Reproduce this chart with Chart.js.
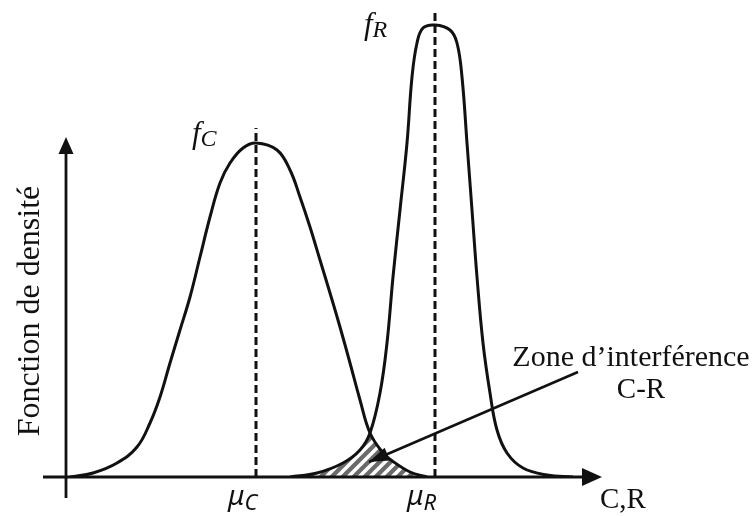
<!DOCTYPE html>
<html lang="fr">
<head>
<meta charset="utf-8">
<title>Zone d'interférence C-R</title>
<script src="https://cdn.jsdelivr.net/npm/chart.js@4.4.1/dist/chart.umd.min.js"></script>
<style>
    html, body { margin: 0; padding: 0; background: #fff; }
    #wrap { width: 756px; height: 516px; }
</style>
</head>
<body>
<div id="wrap"><canvas id="chart" width="756" height="516"></canvas></div>
<script>
// courbe f_C (contrainte)
const contrainteX = [0.4, 2.7, 5.1, 7.1, 8.4, 9.4, 10.4, 11.4, 12.4, 13.4, 14.4, 15.4, 16.4, 17.7, 19.0,
    21.1, 22.4, 23.4, 24.4, 25.4, 26.4, 27.4, 28.4, 29.4, 30.4, 31.7, 32.5, 34.4, 36.1];
const contrainteY = [0, 0.04, 0.14, 0.30, 0.54, 0.80, 1.14, 1.47, 1.80, 2.20, 2.60, 2.94, 3.14, 3.29, 3.34,
    3.27, 3.07, 2.80, 2.50, 2.17, 1.84, 1.50, 1.14, 0.77, 0.44, 0.24, 0.17, 0.05, 0];

// courbe f_R (résistance)
const resistanceX = [22.4, 25.1, 27.7, 29.4, 30.4, 31.4, 32.1, 32.7, 33.4, 34.1, 34.6, 35.1, 35.7, 36.9,
    38.4, 39.1, 39.6, 40.1, 40.6, 41.1, 41.7, 42.4, 43.1, 44.1, 45.7, 48.1, 50.7];
const resistanceY = [0, 0.04, 0.14, 0.27, 0.44, 0.84, 1.34, 2.00, 2.67, 3.34, 4.00, 4.34, 4.49, 4.52,
    4.47, 4.34, 4.00, 3.34, 2.67, 2.00, 1.34, 0.84, 0.47, 0.24, 0.09, 0.02, 0];

// moyennes et hauteur des traits pointillés
const moyennes = [19.0, 36.9];
const hautTirets = [3.49, 4.67];
const nomsMoyennes = ['C', 'R'];

// point où les deux courbes se croisent
const croisementX = 30.4;

// étendue des axes
const axeX = [-2.3, 53.6];
const axeY = [-0.21, 3.40];

// flèche vers la zone d'interférence : [début, pointe]
const flecheZone = [[51.2, 1.05], [30.3, 0.15]];

const toPoints = (xs, ys) => xs.map((x, i) => ({ x: x, y: ys[i] }));

const courbeC = toPoints(contrainteX, contrainteY);
const courbeR = toPoints(resistanceX, resistanceY);

// zone commune : sous f_R avant le croisement, sous f_C après
const zone = courbeR.filter(p => p.x <= croisementX)
    .concat(courbeC.filter(p => p.x > croisementX));

function hachures() {
    const c = document.createElement('canvas');
    c.width = 11;
    c.height = 11;
    const g = c.getContext('2d');
    g.fillStyle = '#6a6a6a';
    g.fillRect(0, 0, 11, 11);
    g.strokeStyle = '#ffffff';
    g.lineWidth = 3.5;
    g.beginPath();
    g.moveTo(-5.5, 5.5); g.lineTo(5.5, -5.5);
    g.moveTo(0, 11); g.lineTo(11, 0);
    g.moveTo(5.5, 16.5); g.lineTo(16.5, 5.5);
    g.stroke();
    return g.createPattern(c, 'repeat');
}

function fleche(ctx, x1, y1, x2, y2, len, half) {
    const a = Math.atan2(y2 - y1, x2 - x1);
    ctx.beginPath();
    ctx.moveTo(x2, y2);
    ctx.lineTo(x2 - len * Math.cos(a) + half * Math.sin(a), y2 - len * Math.sin(a) - half * Math.cos(a));
    ctx.lineTo(x2 - len * Math.cos(a) - half * Math.sin(a), y2 - len * Math.sin(a) + half * Math.cos(a));
    ctx.closePath();
    ctx.fill();
}

// texte avec indice (f_C, μ_C ...)
function indice(ctx, base, sub, x, y, fontBase, fontSub, dy) {
    ctx.font = fontBase;
    ctx.fillText(base, x, y);
    const w = ctx.measureText(base).width;
    ctx.font = fontSub;
    ctx.fillText(sub, x + w, y + dy);
    return w + ctx.measureText(sub).width;
}

const schema = {
    id: 'schema',
    afterDatasetsDraw(chart) {
        const ctx = chart.ctx;
        const sx = chart.scales.x, sy = chart.scales.y;
        const x0 = sx.getPixelForValue(0), y0 = sy.getPixelForValue(0);
        const ink = '#111';

        ctx.save();
        ctx.strokeStyle = ink;
        ctx.fillStyle = ink;
        ctx.lineWidth = 2.8;
        ctx.lineCap = 'butt';

        // axes
        const xEnd = sx.getPixelForValue(axeX[1]);
        const yTop = sy.getPixelForValue(axeY[1]);
        ctx.beginPath();
        ctx.moveTo(sx.getPixelForValue(axeX[0]), y0);
        ctx.lineTo(xEnd - 10, y0);
        ctx.moveTo(x0, sy.getPixelForValue(axeY[0]));
        ctx.lineTo(x0, yTop + 10);
        ctx.stroke();
        fleche(ctx, xEnd - 30, y0, xEnd, y0, 20, 9);
        fleche(ctx, x0, yTop + 30, x0, yTop, 17, 7.5);

        // flèche de la zone d'interférence
        const ax1 = sx.getPixelForValue(flecheZone[0][0]), ay1 = sy.getPixelForValue(flecheZone[0][1]);
        const ax2 = sx.getPixelForValue(flecheZone[1][0]), ay2 = sy.getPixelForValue(flecheZone[1][1]);
        ctx.lineWidth = 2.5;
        ctx.beginPath();
        ctx.moveTo(ax1, ay1);
        ctx.lineTo(ax2, ay2);
        ctx.stroke();
        fleche(ctx, ax1, ay1, ax2, ay2, 20, 7);

        // textes
        ctx.textBaseline = 'alphabetic';
        ctx.textAlign = 'left';
        const serif = '"Liberation Serif", "Times New Roman", serif';

        const pkC = { x: sx.getPixelForValue(moyennes[0]), y: sy.getPixelForValue(hautTirets[0]) };
        const pkR = { x: sx.getPixelForValue(moyennes[1]), y: sy.getPixelForValue(hautTirets[1]) };
        indice(ctx, 'f', nomsMoyennes[0], pkC.x - 64, pkC.y + 15, 'italic 31px ' + serif, 'italic 24px ' + serif, 3);
        indice(ctx, 'f', nomsMoyennes[1], pkR.x - 71, pkR.y + 24, 'italic 31px ' + serif, 'italic 24px ' + serif, 3);

        const sans = '"Noto Sans", "DejaVu Sans", sans-serif';
        moyennes.forEach((m, i) => {
            const px = sx.getPixelForValue(m);
            indice(ctx, 'μ', nomsMoyennes[i], px - 28, y0 + 28, 'italic 28px ' + sans, 'italic 22px ' + sans, 5);
        });

        ctx.font = '29px ' + serif;
        ctx.fillText('C,R', xEnd - 2, y0 + 31);

        ctx.textAlign = 'center';
        ctx.font = '30px ' + serif;
        ctx.fillText('Zone d\u2019interférence', 631, 366);
        ctx.font = '29px ' + serif;
        ctx.fillText('C-R', 641, 398);

        ctx.save();
        ctx.translate(39, 311);
        ctx.rotate(-Math.PI / 2);
        ctx.font = '32px ' + serif;
        ctx.fillText('Fonction de densité', 0, 0);
        ctx.restore();

        ctx.restore();
    }
};

const tirets = (i) => ({
    data: [{ x: moyennes[i], y: 0 }, { x: moyennes[i], y: hautTirets[i] }],
    showLine: true,
    borderColor: '#111',
    borderWidth: 3,
    borderDash: [8, 4],
    pointRadius: 0,
    fill: false,
    order: 2
});

new Chart(document.getElementById('chart'), {
    type: 'scatter',
    data: {
        datasets: [
            {
                label: 'f_C',
                data: courbeC,
                showLine: true,
                borderColor: '#111',
                borderWidth: 3,
                pointRadius: 0,
                tension: 0.4,
                fill: false,
                order: 1
            },
            {
                label: 'f_R',
                data: courbeR,
                showLine: true,
                borderColor: '#111',
                borderWidth: 3,
                pointRadius: 0,
                tension: 0.4,
                fill: false,
                order: 1
            },
            {
                label: 'Zone d\u2019interférence',
                data: zone,
                showLine: true,
                borderWidth: 0,
                borderColor: 'rgba(0,0,0,0)',
                backgroundColor: hachures(),
                pointRadius: 0,
                tension: 0,
                fill: 'origin',
                order: 3
            },
            tirets(0),
            tirets(1)
        ]
    },
    options: {
        responsive: false,
        animation: false,
        layout: { padding: { left: 43, right: 154, top: 10, bottom: 39 } },
        scales: {
            x: { type: 'linear', display: false, min: axeX[0], max: axeX[1] },
            y: { type: 'linear', display: false, min: 0, max: 4.67 }
        },
        plugins: {
            legend: { display: false },
            tooltip: { enabled: false }
        }
    },
    plugins: [schema]
});
</script>
</body>
</html>
